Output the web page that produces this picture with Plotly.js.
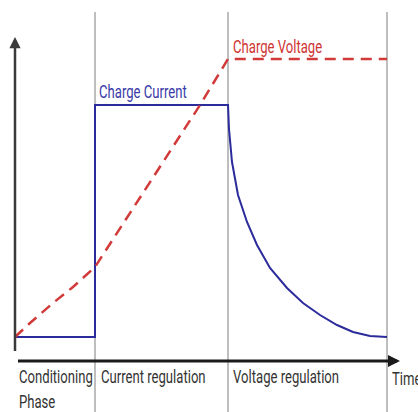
<!DOCTYPE html>
<html>
<head>
<meta charset="utf-8">
<script src="https://cdn.plot.ly/plotly-3.0.1.min.js"></script>
<style>html,body{margin:0;padding:0;background:#fff;}#chart{width:418px;height:412px;}</style>
</head>
<body>
<div id="chart"></div>
<script>
// Time axis in arbitrary units
const currentTime = [0, 80, 80, 213, 213, 214, 217, 223, 232, 242, 255, 272, 288, 305, 322, 338, 355, 372];
const currentValue = [24, 24, 256, 256, 256, 232, 199, 166, 139, 116, 93, 73, 58, 46, 36, 29, 25, 24];
const voltageTime = [0, 15, 38, 58, 80, 125, 185, 213, 372];
const voltageValue = [24, 38, 58, 74, 94, 164, 256, 302, 302];
const phaseBounds = [80, 213, 372];
const phaseLabels = ["Conditioning", "Current regulation", "Voltage regulation"];
const phaseLabelX = [2, 84, 216];
const axisEnd = {x: 385, y: 324};

const FONT = 'Roboto, "Liberation Sans", sans-serif';
const FS = 19;

const traces = [
  {x: currentTime, y: currentValue, mode: 'lines', line: {color: '#2b2b9c', width: 2}, hoverinfo: 'skip'},
  {x: voltageTime, y: voltageValue, mode: 'lines', line: {color: '#d23a3a', width: 2.5, dash: '11px,7px'}, hoverinfo: 'skip'}
];

const shapes = phaseBounds.map(b => ({
  type: 'line', xref: 'x', yref: 'y', x0: b, x1: b, y0: -51, y1: 349,
  line: {color: '#a8a8a8', width: 1.5}, layer: 'below'
}));

const annotations = [];
// axis arrows
annotations.push({x: axisEnd.x, y: 0, ax: 0, ay: 0, axref: 'x', ayref: 'y', xref: 'x', yref: 'y', text: ' ',
  showarrow: true, arrowhead: 2, arrowsize: 0.8, arrowwidth: 3, arrowcolor: '#1a1a1a', standoff: 0, startstandoff: 0});
annotations.push({x: 0, y: axisEnd.y, ax: 0, ay: 0, axref: 'x', ayref: 'y', xref: 'x', yref: 'y', text: ' ',
  showarrow: true, arrowhead: 2, arrowsize: 0.9, arrowwidth: 2.5, arrowcolor: '#3a3a3a', standoff: 0, startstandoff: 0});
// series labels
annotations.push({x: 82, y: 270, xref: 'x', yref: 'y', text: 'Charge Current', showarrow: false,
  xanchor: 'left', yanchor: 'middle', font: {family: FONT, size: FS, color: '#3a3aa8'}});
annotations.push({x: 216, y: 315, xref: 'x', yref: 'y', text: 'Charge Voltage', showarrow: false,
  xanchor: 'left', yanchor: 'middle', font: {family: FONT, size: FS, color: '#cf3434'}});
// phase labels
phaseLabels.forEach((t, i) => {
  annotations.push({x: phaseLabelX[i], y: -15, xref: 'x', yref: 'y', text: t, showarrow: false,
    xanchor: 'left', yanchor: 'middle', font: {family: FONT, size: FS, color: '#333'}});
});
annotations.push({x: 2, y: -40, xref: 'x', yref: 'y', text: 'Phase', showarrow: false,
  xanchor: 'left', yanchor: 'middle', font: {family: FONT, size: FS, color: '#333'}});
annotations.push({x: 375, y: -17, xref: 'x', yref: 'y', text: 'Time', showarrow: false,
  xanchor: 'left', yanchor: 'middle', font: {family: FONT, size: FS, color: '#333'}});

const layout = {
  width: 418, height: 412,
  margin: {l: 0, r: 0, t: 0, b: 0},
  paper_bgcolor: '#fff', plot_bgcolor: '#fff',
  showlegend: false,
  xaxis: {range: [-15, 403], visible: false, fixedrange: true},
  yaxis: {range: [-51, 361], visible: false, fixedrange: true},
  shapes: shapes,
  annotations: annotations
};

Plotly.newPlot('chart', traces, layout, {staticPlot: true, displayModeBar: false}).then(gd => {
  // condense label glyphs horizontally (narrow typeface look), anchored at each label's left edge
  gd.querySelectorAll('.annotation-text-g text.annotation-text').forEach(t => {
    if (!t.textContent.trim()) return;
    const bb = t.getBBox();
    const s = 0.69;
    t.setAttribute('transform', `translate(${bb.x},0) scale(${s},1) translate(${-bb.x},0)`);
  });
});
</script>
</body>
</html>
